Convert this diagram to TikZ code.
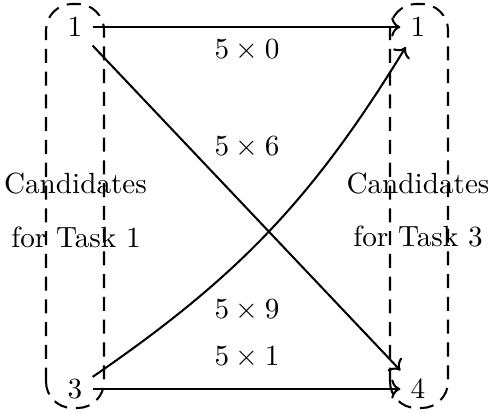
\documentclass[tikz,border=0pt]{standalone}
\usetikzlibrary{arrows.meta}
\begin{document}
\begin{tikzpicture}[x=0.3425pt,y=0.3425pt,
  cand/.style={dash pattern=on 4.8pt off 3pt, line width=0.7pt, rounded corners=9pt},
  num/.style={inner sep=3.33pt},
  conn/.style={->, line width=0.7pt},
  lbl/.style={inner sep=0pt}]
\useasboundingbox (0,0) rectangle (488,412);
\draw[cand] (46,4) rectangle (104,408);
\draw[cand] (390,4) rectangle (448,408);
\node[num] (a1) at (75,385) {1};
\node[num] (a3) at (75,23) {3};
\node[num] (b1) at (418,385) {1};
\node[num] (b4) at (418,23) {4};
\node[lbl] (c1) at (75.5,228) {Candidates};
\node[lbl] (c2) at (76,175) {for Task 1};
\node[lbl] (c3) at (418,228) {Candidates};
\node[lbl] (c4) at (418,175) {for Task 3};
\draw[conn] (a1) -- (b1);
\draw[conn] (a1) -- (b4);
\draw[conn] (a3) to[bend right=12] (b1);
\draw[conn] (a3) -- (b4);
\node[lbl] (l0) at (247,362) {$5\times0$};
\node[lbl] (l6) at (247,265) {$5\times6$};
\node[lbl] (l9) at (247,102) {$5\times9$};
\node[lbl] (l1) at (247,55) {$5\times1$};
\end{tikzpicture}
\end{document}
